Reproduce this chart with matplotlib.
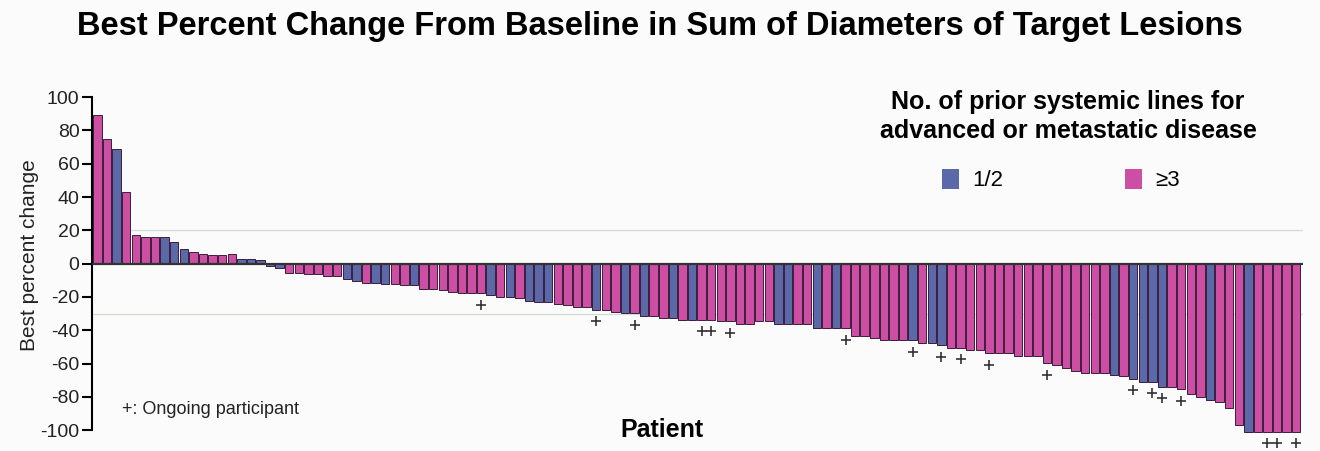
import matplotlib
matplotlib.use("Agg")
import matplotlib.pyplot as plt
from matplotlib.patches import Patch

plt.rcParams["axes.unicode_minus"] = False
plt.rcParams["font.family"] = ["Liberation Sans", "DejaVu Sans"]

# best percent change per patient, sorted as in the waterfall
values = [
    89, 75, 69, 43, 17, 16, 16, 16, 13, 9, 7, 6, 5, 5, 6, 3, 3, 2,
    -1.5, -2.5, -5.6, -5.6, -6, -6, -7.7, -7.7, -9, -10.6, -11.6, -11.6,
    -12, -12, -12.6, -12.6, -15,
    -15, -15.6, -17, -17.4, -17.6, -17.6, -18.6, -20, -20, -20.6, -22.6,
    -23, -23, -24.4, -24.6, -26, -26, -27.6,
    -27.6, -29, -29.6, -29.6, -31.4, -31.4, -32.6, -32.6, -33.6, -33.6,
    -33.6, -33.6, -34.6, -34.6, -36.4, -36.4, -34.6, -34.6,
    -36.4, -36.4, -36.4, -36.4, -38.7, -38.7, -38.7, -38.7, -43.7, -43.7,
    -44.8, -45.8, -45.8, -45.8, -45.8, -47.7, -47.7, -49,
    -50.5, -50.5, -51.7, -52, -53.7, -53.7, -53.7, -55.2, -55.2, -55.2,
    -59.8, -61, -62.7, -64.2, -65.8, -65.8, -65.8, -66.8,
    -67.7, -69, -71, -71, -74, -74, -75.6, -78.5, -80, -81.8, -83.2, -87,
    -97, -101, -101, -101, -101, -101, -101,
]
# prior lines group per patient: "b" = 1/2, "p" = >=3
groups = list(
    "ppbppppbbbpppppbbb"
    + "bbppppppbbpbbppbp"
    + "ppppppbpbpbbbppppb"
    + "ppbpbppbpbpppppppp"
    + "bbppbpbp" + "pppppp" + "bpbb"
    + "ppppppppppppppppp" + "b"
    + "pbbbbppppbpppbppppp"
)
# patients still ongoing (1-based index)
ongoing = [41, 53, 57, 64, 65, 67, 79, 86, 89, 91, 94, 100, 109, 111, 112,
           114, 123, 124, 126]

blue = "#5c69a8"
pink = "#cd4fa4"

n = len(values)
x = list(range(n))
colors = [blue if g == "b" else pink for g in groups]

fig = plt.figure(figsize=(13.2, 4.51), dpi=100)
fig.patch.set_facecolor("#fbfbfb")
ax = fig.add_axes([92 / 1320, 0.002, (1302.5 - 92) / 1320, 0.79])
ax.set_facecolor("#fbfbfb")

ax.axhline(20, color="#d6ddd6", lw=1, zorder=0)
ax.axhline(-30, color="#d6ddd6", lw=1, zorder=0)
ax.bar(x, values, width=0.88, color=colors, edgecolor="#3a1d3c", linewidth=0.7, zorder=2)
ax.axhline(0, color="#333333", lw=1.6, zorder=3)

ox = [i - 1 for i in ongoing]
oy = [values[i] - 7 for i in ox]
ax.plot(ox, oy, "+", color="#333333", markersize=7, markeredgewidth=1.2, zorder=4)

ax.set_xlim(-0.57, n - 0.35)
ax.set_ylim(-112, 102)
ax.set_yticks(range(-100, 101, 20))
ax.set_xticks([])
for s in ["top", "right", "bottom"]:
    ax.spines[s].set_visible(False)
ax.spines["left"].set_bounds(-100, 100)
ax.spines["left"].set_linewidth(1.5)
ax.tick_params(axis="y", direction="out", length=7, width=1.5, labelsize=14,
               pad=2, labelcolor="#222222")
ax.set_ylabel("Best percent change", fontsize=15, color="#222222")
ax.yaxis.set_label_coords(-0.044, 0.547)

fig.text(0.5, 0.975, "Best Percent Change From Baseline in Sum of Diameters of Target Lesions",
         ha="center", va="top", fontsize=23.5, fontweight="bold")
fig.text(662 / 1320, 1 - 430 / 451, "Patient", ha="center", va="center",
         fontsize=18, fontweight="bold")
fig.text(122 / 1320, 1 - 409 / 451, "+: Ongoing participant", ha="left", va="center",
         fontsize=13, color="#222222")

fig.text(1068 / 1320, 1 - 102 / 451, "No. of prior systemic lines for",
         ha="center", va="center", fontsize=18, fontweight="bold")
fig.text(1068 / 1320, 1 - 131 / 451, "advanced or metastatic disease",
         ha="center", va="center", fontsize=18, fontweight="bold")

handles = [Patch(facecolor=blue, edgecolor="none", label="1/2"),
           Patch(facecolor=pink, edgecolor="none", label="\u22653")]
fig.legend(handles=handles, loc="center",
           bbox_to_anchor=(1061 / 1320, 1 - 180 / 451), ncol=2, frameon=False,
           prop={"size": 16}, handlelength=0.75, handleheight=1.0, handletextpad=0.6,
           columnspacing=5.5, borderaxespad=0, borderpad=0)

fig.savefig("out.png", dpi=100, facecolor=fig.get_facecolor())
